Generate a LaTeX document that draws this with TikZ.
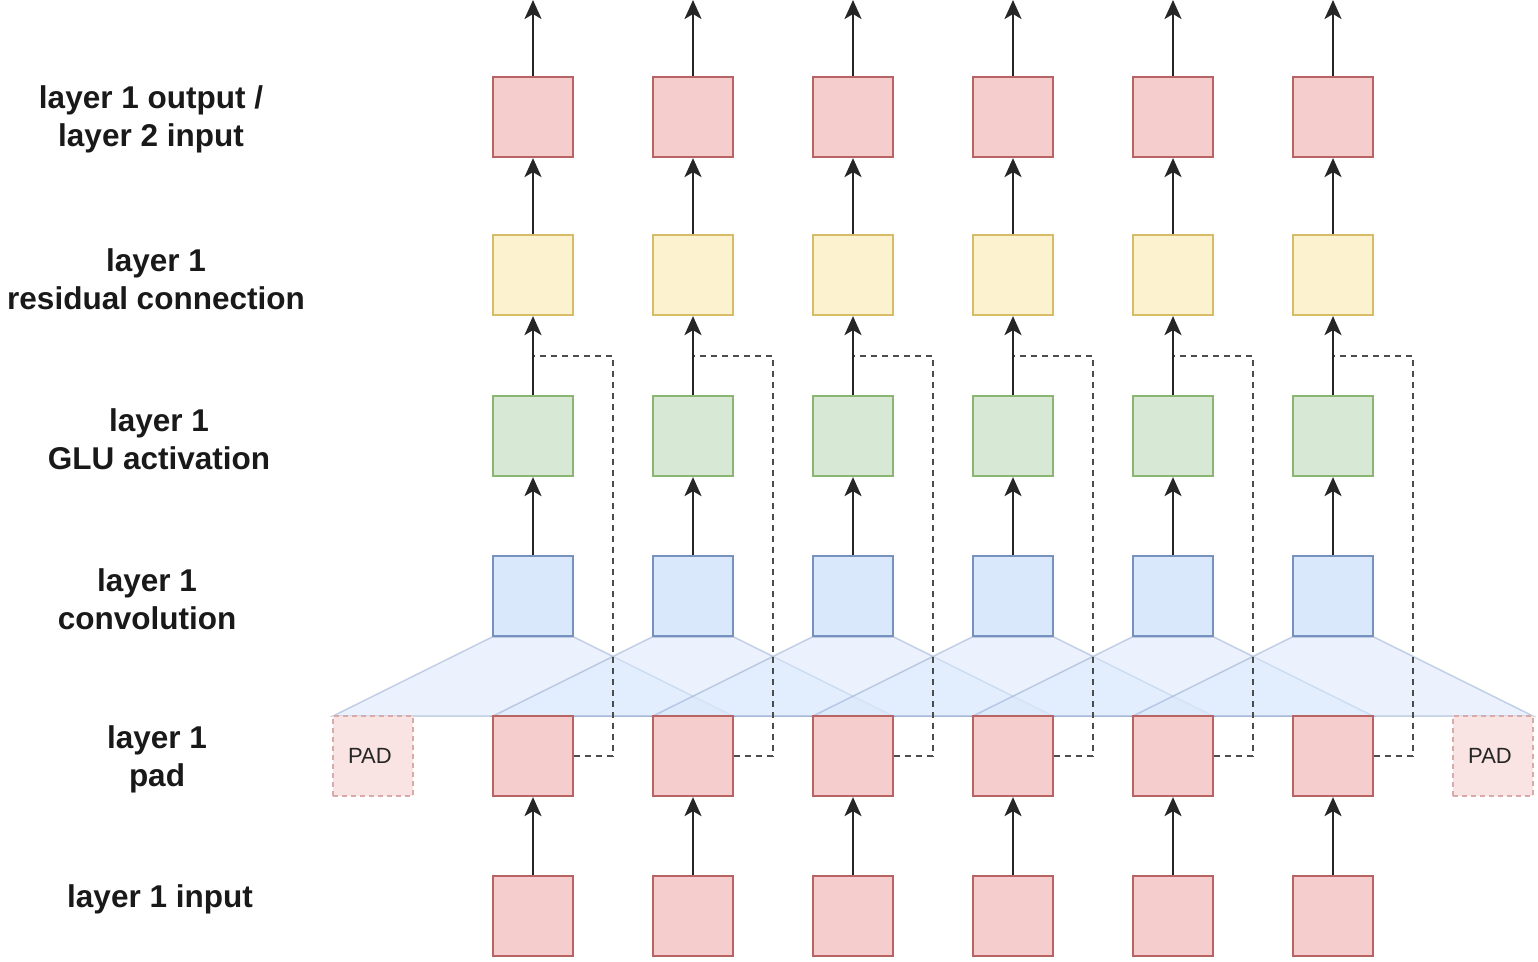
\documentclass[tikz,border=0pt]{standalone}
\usepackage{fontspec}
\setmainfont{Liberation Sans}
\usetikzlibrary{arrows.meta,backgrounds}
\definecolor{redF}{HTML}{F4CDCC}
\definecolor{redD}{HTML}{B86464}
\definecolor{yelF}{HTML}{FDF2CF}
\definecolor{yelD}{HTML}{D6BC66}
\definecolor{grnF}{HTML}{D7E8D5}
\definecolor{grnD}{HTML}{8AB572}
\definecolor{bluF}{HTML}{DAE8FC}
\definecolor{bluD}{HTML}{7892C0}
\begin{document}
\begin{tikzpicture}[x=1pt,y=-1pt,
  cell/.style={draw, line width=2.2pt, minimum size=80pt, inner sep=0pt},
  redbox/.style={cell, fill=redF, draw=redD},
  yelbox/.style={cell, fill=yelF, draw=yelD},
  grnbox/.style={cell, fill=grnF, draw=grnD},
  blubox/.style={cell, fill=bluF, draw=bluD},
  padbox/.style={cell, line width=1.8pt, fill=redF!55, draw=redD!55, dash pattern=on 5pt off 4pt, font=\fontsize{22}{26}\selectfont, text=black!85},
  trap/.style={fill=bluF, fill opacity=0.55, draw=bluD, draw opacity=0.4, line width=1.5pt},
  arr/.style={-{Stealth[length=19pt,width=17pt,inset=5pt]}, line width=2.4pt, black!85},
  skipline/.style={line width=2.4pt, dash pattern=on 6pt off 5pt, black!70},
  lbl/.style={font=\bfseries\fontsize{31.5}{38}\selectfont, align=center, text=black!90}]
\useasboundingbox (0,0) rectangle (1538,961);
% row labels
\node[lbl] (lo) at (151,119) {layer 1 output /\\layer 2 input};
\node[lbl] (lr) at (156,279) {layer 1\\residual connection};
\node[lbl] (lg) at (159,439) {layer 1\\GLU activation};
\node[lbl] (lc) at (147,599) {layer 1\\convolution};
\node[lbl] (lp) at (157,759) {layer 1\\pad};
\node[lbl] (li) at (160,899) {layer 1 input};
% pad boxes
\node[padbox] (padL) at (373,756) {\hspace*{-6pt}PAD};
\node[padbox] (padR) at (1493,756) {\hspace*{-6pt}PAD};
\foreach \i in {1,...,6}{
  \pgfmathsetmacro\x{373+160*\i}
  \node[redbox] (in\i) at (\x,916) {};
  \node[redbox] (pad\i) at (\x,756) {};
  \node[blubox] (conv\i) at (\x,596) {};
  \node[grnbox] (glu\i) at (\x,436) {};
  \node[yelbox] (res\i) at (\x,275) {};
  \node[redbox] (out\i) at (\x,117) {};
  \coordinate (top\i) at (\x,0);
  \coordinate (k\i) at (\x+80,356);
  \coordinate (j\i) at (\x,356);
  \begin{scope}[on background layer]
    \draw[trap] (conv\i.south west) -- (conv\i.south east) -- (\x+200,716) -- (\x-200,716) -- cycle;
  \end{scope}
  \draw[skipline] (pad\i.east) -| (k\i) -- (j\i) -- (res\i.south);
  \draw[arr] (in\i) -- (pad\i);
  \draw[arr] (conv\i) -- (glu\i);
  \draw[arr] (glu\i) -- (res\i);
  \draw[arr] (res\i) -- (out\i);
  \draw[arr] (out\i) -- (top\i);
}
\end{tikzpicture}
\end{document}
